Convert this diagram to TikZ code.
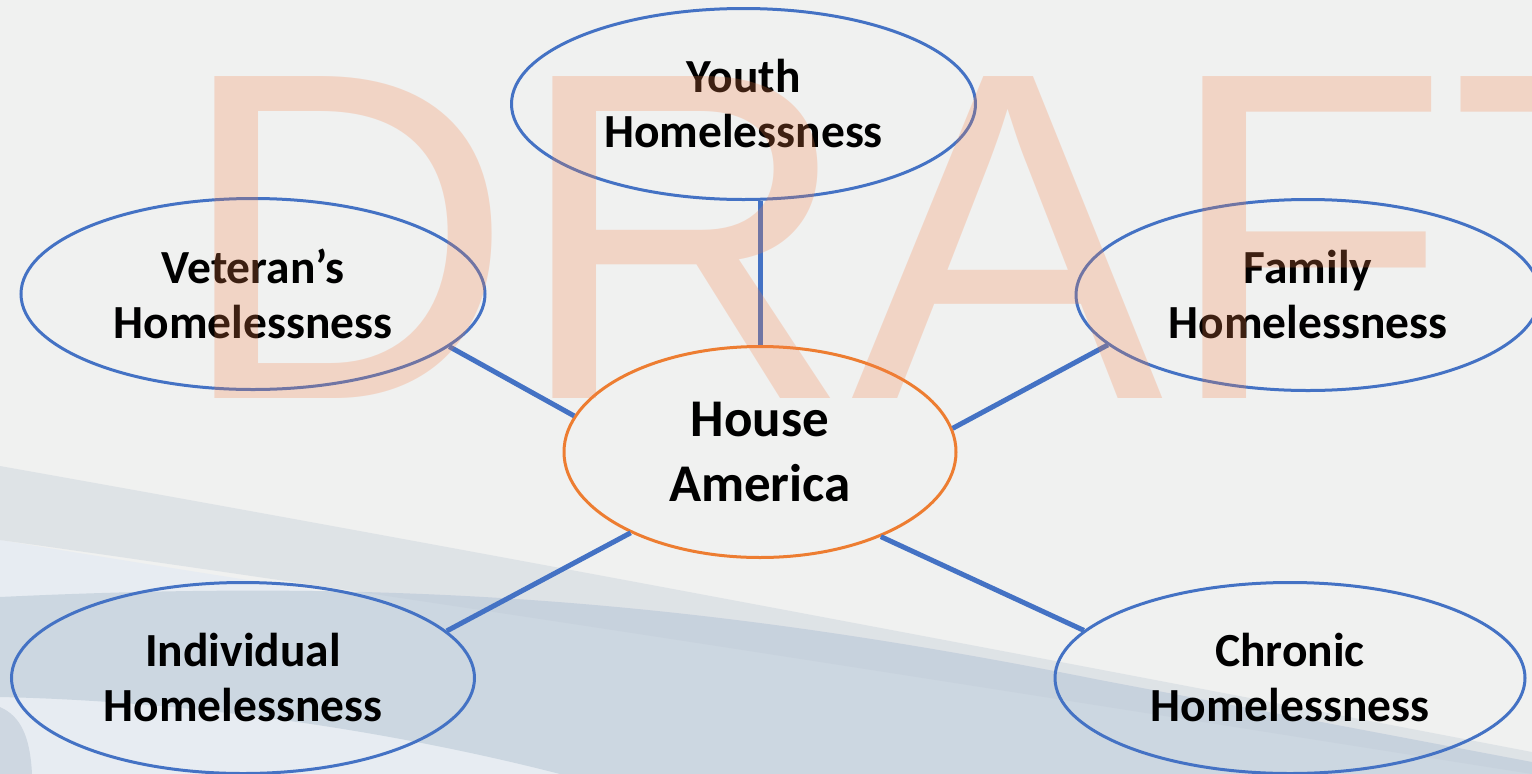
\documentclass[tikz,border=0pt]{standalone}
\usepackage{fontspec}
\setmainfont{Carlito}
\newfontfamily\wmfont[Kerning=Off]{Liberation Sans}
\usetikzlibrary{shapes.geometric}
\definecolor{bgc}{RGB}{240,241,240}
\definecolor{swa}{RGB}{191,201,214}
\definecolor{swb}{RGB}{204,215,225}
\definecolor{swc}{RGB}{231,236,242}
\definecolor{swd}{RGB}{206,215,225}
\definecolor{eblue}{RGB}{68,114,196}
\definecolor{eorange}{RGB}{237,125,49}
\definecolor{wmc}{RGB}{245,128,72}
\tikzset{
  ell/.style={ellipse, draw=eblue, line width=3pt, inner sep=0pt, align=center,
    minimum width=464pt, minimum height=191pt,
    font=\bfseries\fontsize{47.5}{55}\selectfont},
  hub/.style={ellipse, draw=eorange, line width=3pt, inner sep=0pt, align=center,
    minimum width=392pt, minimum height=211pt,
    font=\bfseries\fontsize{53}{65}\selectfont},
  conn/.style={draw=eblue, line width=5pt},
  wm/.style={anchor=base west, inner sep=0pt, text=wmc, text opacity=0.25,
    font=\wmfont\fontsize{468}{468}\selectfont}
}
\begin{document}
\begin{tikzpicture}[x=1pt,y=-1pt]
\useasboundingbox (0,0) rectangle (1532,774);
\clip (0,0) rectangle (1532,774);
% background
\fill[bgc] (0,0) rectangle (1532,774);
\fill[swc] (0,540) .. controls (600,640) and (1100,700) .. (1532,770) -- (1532,774) -- (0,774) -- cycle;
\fill[swb] (0,597) .. controls (400,578) and (700,600) .. (1100,680) -- (1532,762) -- (1532,774) -- (560,774) .. controls (420,738) and (220,702) .. (0,697) -- cycle;
\fill[swa, opacity=0.35] (0,466) .. controls (500,555) and (1000,650) .. (1532,752) -- (1532,774) .. controls (1000,690) and (500,610) .. (0,540) -- cycle;
\fill[swd] (0,707) .. controls (20,716) and (30,735) .. (32,774) -- (0,774) -- cycle;
% nodes
\node[hub] (house) at (760,452) {House\\America};
\node[ell] (youth) at (743.5,104) {Youth\\Homelessness};
\node[ell] (vet) at (253,294) {Veteran’s\\Homelessness};
\node[ell] (fam) at (1308,295) {Family\\Homelessness};
\node[ell, minimum width=463pt] (ind) at (243,678) {Individual\\Homelessness};
\node[ell, minimum width=470pt] (chr) at (1290,678) {Chronic\\Homelessness};
% connectors
\draw[conn] (house.north) -- (house.north |- youth.south);
\draw[conn] (vet.-15.3) -- (house.169.7);
\draw[conn] (fam.194.5) -- (house.7.3);
\draw[conn] (ind.13) -- (house.212.6);
\draw[conn] (chr.167.6) -- (house.-35);
% watermark
\node[wm] (draft) at (176,398) {DRAFT};
\end{tikzpicture}
\end{document}
